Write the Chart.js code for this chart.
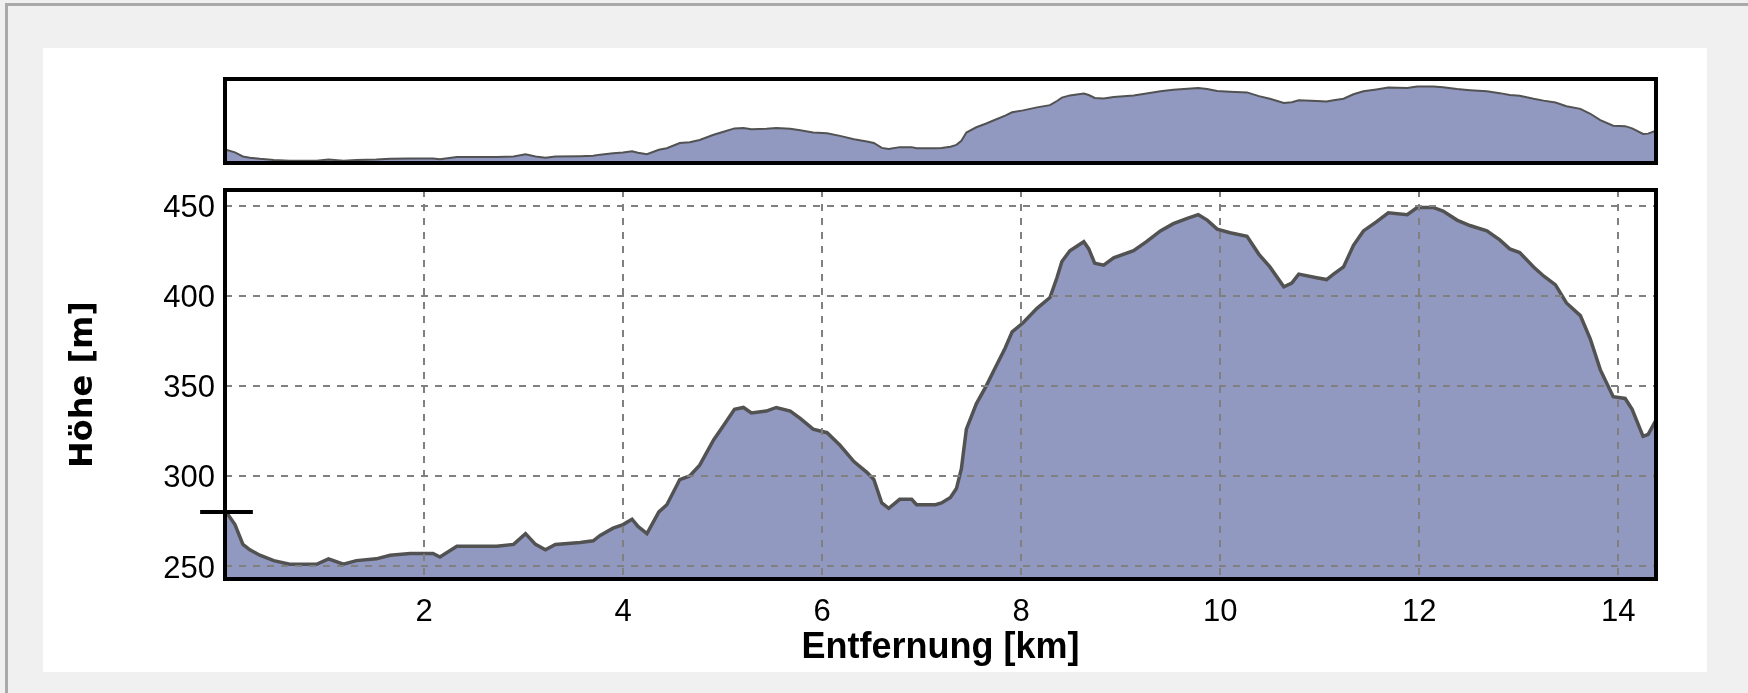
<!DOCTYPE html>
<html>
<head>
<meta charset="utf-8">
<script src="https://cdn.jsdelivr.net/npm/chart.js@4.4.1/dist/chart.umd.min.js"></script>
<style>
  html, body { margin:0; padding:0; background:#f0f0f0; width:1748px; height:693px; overflow:hidden; }
  #frame { position:absolute; left:5px; top:3px; right:0; bottom:0; border-left:3px solid #a9a9a9; border-top:3px solid #a9a9a9; }
  #panel { position:absolute; left:43px; top:48px; width:1664px; height:624px; background:#fff; }
  canvas { position:absolute; left:0; }
  #overview { top:0; }
  #profile { top:180px; }
</style>
</head>
<body>
<div id="frame"></div>
<div id="panel"></div>
<canvas id="overview" width="1748" height="180"></canvas>
<canvas id="profile" width="1748" height="513"></canvas>
<script>
// Hoehenprofil: Entfernung (km) / Hoehe (m)
const distKm = [
  0, 0.1, 0.18, 0.25, 0.35, 0.49, 0.65, 0.92, 1.04, 1.19, 1.32, 1.52, 1.66, 1.86, 2.09, 2.16,
  2.33, 2.73, 2.9, 3.02, 3.12, 3.22, 3.32, 3.57, 3.7, 3.77, 3.9, 4.0, 4.09, 4.15, 4.24, 4.36,
  4.44, 4.57, 4.67, 4.77, 4.91, 5.01, 5.12, 5.21, 5.29, 5.44, 5.54, 5.68, 5.78, 5.91, 6.05, 6.18,
  6.32, 6.45, 6.52, 6.6, 6.67, 6.78, 6.9, 6.95, 7.14, 7.2, 7.29, 7.35, 7.4, 7.45, 7.55, 7.65,
  7.74, 7.84, 7.91, 8.02, 8.16, 8.29, 8.36, 8.41, 8.49, 8.63, 8.68, 8.74, 8.83, 8.93, 9.13, 9.26,
  9.4, 9.53, 9.67, 9.78, 9.87, 9.97, 10.1, 10.27, 10.39, 10.5, 10.64, 10.72, 10.79, 10.97, 11.07, 11.14,
  11.24, 11.34, 11.44, 11.57, 11.69, 11.88, 11.98, 12.14, 12.24, 12.38, 12.51, 12.68, 12.81, 12.91, 13.01, 13.15,
  13.25, 13.37, 13.48, 13.62, 13.72, 13.82, 13.95, 14.07, 14.14, 14.25, 14.3, 14.38
];
const heightM = [
  281, 273, 262, 259, 256, 253, 251, 251, 254, 251, 253, 254, 256, 257, 257, 255,
  261, 261, 262, 268, 262, 259, 262, 263, 264, 267, 271, 273, 276, 272, 268, 280,
  284, 298, 300, 306, 320, 328, 337, 338, 335, 336, 338, 336, 332, 326, 324, 317,
  308, 302, 298, 285, 282, 287, 287, 284, 284, 285, 288, 293, 304, 326, 340, 350,
  360, 371, 380, 385, 393, 399, 410, 419, 425, 430, 426, 418, 417, 421, 425, 430,
  436, 440, 443, 445, 442, 437, 435, 433, 423, 416, 405, 407, 412, 410, 409, 412,
  416, 428, 436, 441, 446, 445, 449, 449, 447, 442, 439, 436, 431, 426, 424, 416,
  411, 406, 396, 389, 376, 359, 344, 343, 337, 322, 323, 331
];
const xTicks = [2, 4, 6, 8, 10, 12, 14];
const yTicks = [250, 300, 350, 400, 450];
// aktuelle Position (Markierung am Start)
const markerKm = [-0.25, 0.28];
const markerHeight = 280;

const fontFamily = "'Liberation Sans', Arial, sans-serif";
const fillColor = '#9299c1';
const lineColor = '#525252';

const profilePoints = distKm.map((d, i) => ({ x: d, y: heightM[i] }));

// schwarzer Rahmen um die Zeichenflaeche
const framePlugin = {
  id: 'frame',
  afterDraw(chart) {
    const { ctx, chartArea: a } = chart;
    ctx.save();
    ctx.strokeStyle = '#000';
    ctx.lineWidth = 4;
    ctx.strokeRect(a.left, a.top, a.right - a.left, a.bottom - a.top);
    ctx.restore();
  }
};

// --- Uebersicht oben ---
new Chart(document.getElementById('overview'), {
  type: 'line',
  data: {
    datasets: [{
      data: profilePoints,
      borderColor: lineColor,
      borderWidth: 2,
      backgroundColor: fillColor,
      fill: 'start',
      pointRadius: 0
    }]
  },
  options: {
    responsive: false,
    animation: false,
    devicePixelRatio: 1,
    layout: { padding: { left: 225, right: 92, top: 79, bottom: 17 } },
    plugins: { legend: { display: false }, tooltip: { enabled: false } },
    scales: {
      x: { type: 'linear', display: false, min: 0, max: 14.38 },
      y: { display: false, min: 244.7, max: 468.7 }
    }
  },
  plugins: [framePlugin]
});

// --- Hoehenprofil ---
new Chart(document.getElementById('profile'), {
  type: 'line',
  data: {
    datasets: [
      {
        data: markerKm.map(x => ({ x: x, y: markerHeight })),
        borderColor: '#000',
        borderWidth: 4,
        pointRadius: 0,
        fill: false,
        clip: false
      },
      {
        data: profilePoints,
        borderColor: lineColor,
        borderWidth: 3.5,
        backgroundColor: fillColor,
        fill: 'start',
        pointRadius: 0
      }
    ]
  },
  options: {
    responsive: false,
    animation: false,
    devicePixelRatio: 1,
    layout: { padding: { left: 40, right: 92, top: 10, bottom: 7 } },
    plugins: { legend: { display: false }, tooltip: { enabled: false } },
    scales: {
      x: {
        type: 'linear',
        min: 0,
        max: 14.38,
        afterBuildTicks: s => { s.ticks = xTicks.map(v => ({ value: v })); },
        afterFit: s => { s.height = 107; s.paddingLeft = 0; s.paddingRight = 0; },
        grid: { color: '#808080', lineWidth: 2, drawTicks: false, z: 1 },
        border: { display: false, dash: [7, 7] },
        ticks: { font: { family: fontFamily, size: 31 }, color: '#000', padding: 15, maxRotation: 0, autoSkip: false },
        title: {
          display: true, text: 'Entfernung [km]', color: '#000',
          font: { family: fontFamily, size: 36, weight: 'bold' },
          padding: { top: 0, bottom: 16 }
        }
      },
      y: {
        min: 242.8,
        max: 458.7,
        afterBuildTicks: s => { s.ticks = yTicks.map(v => ({ value: v })); },
        afterFit: s => { s.width = 185; s.paddingTop = 0; s.paddingBottom = 0; },
        grid: { color: '#808080', lineWidth: 2, drawTicks: false, z: 1 },
        border: { display: false, dash: [7, 7] },
        ticks: { font: { family: fontFamily, size: 31 }, color: '#000', padding: 10, labelOffset: 3 },
        title: {
          display: true, text: 'Höhe [m]', color: '#000',
          font: { family: "'DejaVu Sans', sans-serif", size: 32, weight: 'bold' },
          padding: { top: 24, bottom: 0 }
        }
      }
    }
  },
  plugins: [framePlugin]
});
</script>
</body>
</html>
